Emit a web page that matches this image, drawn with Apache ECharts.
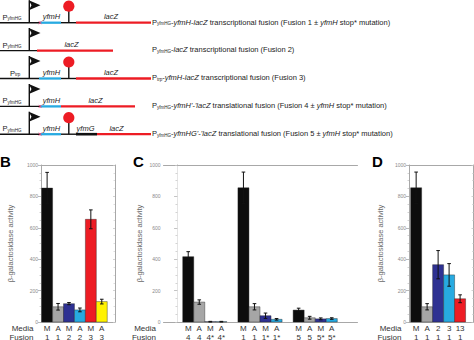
<!DOCTYPE html>
<html><head><meta charset="utf-8">
<script src="https://cdn.jsdelivr.net/npm/echarts@6/dist/echarts.min.js"></script>
<style>html,body{margin:0;padding:0;background:#fff}#c{width:474px;height:340px}</style>
</head><body><div id="c"></div>
<script>
// ---------- data ----------
const yTicks = [0, 200, 400, 600, 800, 1000];
const yName = 'β-galactosidase activity';

const bMedia  = ['M', 'A', 'M', 'A', 'M', 'A'];
const bFusion = ['1', '1', '2', '2', '3', '3'];
const bValues = [853, 97, 117, 77, 654, 130];
const bErrors = [100, 21, 7, 12, 60, 15];

const cMedia  = ['M', 'A', 'M', 'A', 'M', 'A', 'M', 'A', 'M', 'A', 'M', 'A'];
const cFusion = ['4', '4', '4*', '4*', '1', '1', '1*', '1*', '5', '5', '5*', '5*'];
const cValues = [416, 127, 2, 2, 855, 97, 40, 17, 76, 27, 20, 22];
const cErrors = [32, 14, 2, 2, 100, 20, 17, 5, 12, 9, 6, 5];

const dMedia  = ['M', 'A', '2', '3', '13'];
const dFusion = ['1', '1', '1', '1', '1'];
const dValues = [855, 97, 365, 300, 148];
const dErrors = [100, 20, 90, 72, 25];

const promoterNames = ['yfmHG', 'yfmHG', 'trp', 'yfmHG', 'yfmHG'];
const constructText = [
  '{p|P}{s|yfmHG}{n|-}{i|yfmH}{n|-}{i|lacZ}{n| transcriptional fusion (Fusion 1 ± }{i|yfmH}{n| stop* mutation)}',
  '{p|P}{s|yfmHG}{n|-}{i|lacZ}{n| transcriptional fusion (Fusion 2)}',
  '{p|P}{s|trp}{n|-}{i|yfmH}{n|-}{i|lacZ}{n| transcriptional fusion (Fusion 3)}',
  "{p|P}{s|yfmHG}{n|-}{i|yfmH'}{n|-}{i|'lacZ}{n| translational fusion (Fusion 4 ± }{i|yfmH}{n| stop* mutation)}",
  "{p|P}{s|yfmHG}{n|-}{i|yfmHG'}{n|-}{i|'lacZ}{n| translational fusion (Fusion 5 ± }{i|yfmH}{n| stop* mutation)}"
];

// ---------- style ----------
const FONT = '"Liberation Sans", Arial, Helvetica, sans-serif';
const COL = { black: '#0d0d0d', gray: '#a6a6a6', navy: '#2e3192', cyan: '#27aae1', red: '#ed1c24', yellow: '#fff200' };
const AX = '#a8a8a8';
const TXT = '#222222';
const GTOP = 165, GH = 157;

const panels = [
  { key: 'B', left: 41, width: 74, min: 0.44, max: 7.21, nameGap: 27, rightLine: true,
    media: bMedia, fusion: bFusion, values: bValues, errors: bErrors,
    colors: [COL.black, COL.gray, COL.navy, COL.cyan, COL.red, COL.yellow], pos: i => i + 1 },
  { key: 'C', left: 163.5, width: 194, min: -1.24, max: 16.33, nameGap: 20, rightLine: false,
    media: cMedia, fusion: cFusion, values: cValues, errors: cErrors,
    colors: [COL.black, COL.gray, COL.navy, COL.cyan, COL.black, COL.gray, COL.navy, COL.cyan, COL.black, COL.gray, COL.navy, COL.cyan],
    pos: i => i + 1 + Math.floor(i / 4) },
  { key: 'D', left: 409, width: 64.5, min: 0.35, max: 6.22, nameGap: 25, rightLine: true,
    media: dMedia, fusion: dFusion, values: dValues, errors: dErrors,
    colors: [COL.black, COL.gray, COL.navy, COL.cyan, COL.red], pos: i => i + 1 }
];

function makeRender(p) {
  return function (params, api) {
    const i = params.dataIndex;
    const x = api.value(0), v = api.value(1), e = api.value(2);
    const a = api.coord([x - 0.5, 0]);
    const b = api.coord([x + 0.5, v]);
    const t = api.coord([x, v + e]);
    const lo = api.coord([x, Math.max(0, v - e)]);
    const cw = 1.8;
    return {
      type: 'group',
      children: [
        { type: 'rect', shape: { x: a[0], y: b[1], width: b[0] - a[0], height: a[1] - b[1] },
          style: { fill: p.colors[i], stroke: '#222', lineWidth: 0.4 } },
        { type: 'line', shape: { x1: t[0], y1: t[1], x2: lo[0], y2: lo[1] }, style: { stroke: '#111', lineWidth: 1 } },
        { type: 'line', shape: { x1: t[0] - cw, y1: t[1], x2: t[0] + cw, y2: t[1] }, style: { stroke: '#111', lineWidth: 1 } },
        { type: 'line', shape: { x1: lo[0] - cw, y1: lo[1], x2: lo[0] + cw, y2: lo[1] }, style: { stroke: '#111', lineWidth: 1 } },
        { type: 'text', x: t[0], y: a[1] + 6.5,
          style: { text: p.media[i], fill: '#333', font: '8px ' + FONT, align: 'center', verticalAlign: 'middle' } },
        { type: 'text', x: t[0], y: a[1] + 15,
          style: { text: p.fusion[i], fill: '#333', font: '8px ' + FONT, align: 'center', verticalAlign: 'middle' } }
      ]
    };
  };
}

const grid = [], xAxis = [], yAxis = [], series = [];
panels.forEach((p, k) => {
  grid.push({ left: p.left, top: GTOP, width: p.width, height: GH });
});
panels.forEach((p, k) => {
  xAxis.push({ type: 'value', gridIndex: k, min: p.min, max: p.max, position: 'bottom',
    axisLine: { show: true, onZero: false, lineStyle: { color: AX, width: 1 } },
    axisTick: { show: false }, axisLabel: { show: false }, splitLine: { show: false } });
});
panels.forEach((p, k) => {
  xAxis.push({ type: 'value', gridIndex: k, min: p.min, max: p.max, position: 'top',
    axisLine: { show: true, onZero: false, lineStyle: { color: AX, width: 1 } },
    axisTick: { show: false }, axisLabel: { show: false }, splitLine: { show: false } });
});
panels.forEach((p, k) => {
  yAxis.push({ type: 'value', gridIndex: k, position: 'left',
    min: yTicks[0], max: yTicks[yTicks.length - 1], interval: yTicks[1] - yTicks[0],
    name: yName, nameLocation: 'middle', nameRotate: 90, nameGap: p.nameGap,
    nameTextStyle: { fontSize: 7.5, color: '#6a6a6a', fontFamily: FONT },
    axisLine: { show: true, lineStyle: { color: AX, width: 1 } },
    axisTick: { show: true, length: 3, lineStyle: { color: AX, width: 0.8 } },
    minorTick: { show: true, splitNumber: 4, length: 1.5, lineStyle: { color: '#c8c8c8', width: 0.8 } },
    axisLabel: { fontSize: 5, color: '#8a8a8a', margin: 3, fontFamily: FONT, formatter: v => String(v) },
    splitLine: { show: false } });
});
panels.forEach((p, k) => {
  yAxis.push({ type: 'value', gridIndex: k, position: 'right',
    min: yTicks[0], max: yTicks[yTicks.length - 1], interval: yTicks[1] - yTicks[0],
    axisLine: { show: true, lineStyle: { color: p.rightLine ? AX : '#e4e4e4', width: 1 } },
    axisTick: { show: true, inside: true, length: 2, lineStyle: { color: '#c8c8c8', width: 0.8 } },
    minorTick: { show: true, splitNumber: 4, length: 1.5, lineStyle: { color: '#d4d4d4', width: 0.8 } },
    axisLabel: { show: false }, splitLine: { show: false } });
});
panels.forEach((p, k) => {
  series.push({ type: 'custom', xAxisIndex: k, yAxisIndex: k, clip: false,
    renderItem: makeRender(p),
    encode: { x: 0, y: 1 },
    data: p.values.map((v, i) => [p.pos(i), v, p.errors[i]]) });
});

// ---------- schematic + annotations ----------
function schematic() {
  const els = [];
  const base = [22.7, 50.6, 78.5, 106.4, 134.2];
  const segColor = { k: '#111', K: '#111', c: COL.cyan, r: COL.red };
  const segWidth = { k: 1.4, K: 2.6, c: 2.3, r: 2.3 };
  const rows = [
    { segs: [['k', 0, 40], ['c', 40, 61], ['k', 61, 76], ['r', 76, 151]], term: true, stop: true, genes: [['yfmH', 51.5], ['lacZ', 111]] },
    { segs: [['k', 0, 37], ['r', 37, 113]], genes: [['lacZ', 71.5]] },
    { segs: [['k', 0, 39], ['c', 39, 61], ['k', 61, 76], ['r', 76, 151]], term: true, genes: [['yfmH', 51.5], ['lacZ', 111]] },
    { segs: [['k', 0, 40], ['c', 40, 61], ['r', 61, 135]], stop: true, genes: [['yfmH', 51.5], ['lacZ', 95.5]] },
    { segs: [['k', 0, 40], ['c', 40, 61], ['k', 61, 76], ['K', 76, 97], ['r', 97, 151]], term: true, stop: true, genes: [['yfmH', 51.5], ['yfmG', 85.5], ['lacZ', 116.5]] }
  ];
  const tok = (size, italic) => ({ fontSize: size, fontFamily: FONT, fontStyle: italic ? 'italic' : 'normal',
    fill: TXT, color: TXT, lineHeight: 9, verticalAlign: 'bottom' });
  const richP = { p: tok(7.5), s: tok(4.5), n: tok(7.5), i: tok(7.5, true) };
  rows.forEach((r, k) => {
    const y = base[k];
    r.segs.forEach(s => {
      els.push({ type: 'line', shape: { x1: s[1], y1: y, x2: s[2], y2: y },
        style: { stroke: segColor[s[0]], lineWidth: segWidth[s[0]] } });
    });
    // promoter flag
    const top = y - 22.5;
    els.push({ type: 'line', shape: { x1: 29.3, y1: y, x2: 29.3, y2: top }, style: { stroke: '#111', lineWidth: 1.4 } });
    els.push({ type: 'polygon', shape: { points: [[28.8, top], [40.5, top + 5], [28.8, top + 10], [31.5, top + 5]] }, style: { fill: '#111' } });
    // terminator
    if (r.term) {
      els.push({ type: 'line', shape: { x1: 68.8, y1: y, x2: 68.8, y2: y - 12 }, style: { stroke: '#111', lineWidth: 1.4 } });
      els.push({ type: 'circle', shape: { cx: 68.8, cy: y - 16.5, r: 5.6 }, style: { fill: COL.red } });
    }
    // stop mutation mark
    if (r.stop) {
      els.push({ type: 'line', shape: { x1: 38.8, y1: y - 1.5, x2: 41.4, y2: y + 1.5 }, style: { stroke: '#e8417a', lineWidth: 0.9 } });
      els.push({ type: 'line', shape: { x1: 38.8, y1: y + 1.5, x2: 41.4, y2: y - 1.5 }, style: { stroke: '#e8417a', lineWidth: 0.9 } });
    }
    // gene names
    r.genes.forEach(g => {
      els.push({ type: 'text', x: g[1], y: y - 1.8,
        style: { text: g[0], fill: TXT, font: 'italic 7.5px ' + FONT, align: 'center', verticalAlign: 'bottom' } });
    });
    // promoter label
    els.push({ type: 'text', x: promoterNames[k] === 'trp' ? 10 : 2.5, y: y - 1.5,
      style: { text: '{p|P}{s|' + promoterNames[k] + '}', rich: richP, fill: TXT, align: 'left', verticalAlign: 'bottom' } });
    // description
    els.push({ type: 'text', x: 152, y: y + 3.3,
      style: { text: constructText[k], rich: richP, fill: TXT, align: 'left', verticalAlign: 'bottom' } });
  });
  // panel letters
  [['B', 0], ['C', 133], ['D', 372]].forEach(l => {
    els.push({ type: 'text', x: l[1], y: 161,
      style: { text: l[0], fill: '#000', font: 'bold 15px ' + FONT, align: 'left', verticalAlign: 'middle' } });
  });
  // Media / Fusion row titles
  panels.forEach(p => {
    els.push({ type: 'text', x: p.left - 7.5, y: GTOP + GH + 6.5,
      style: { text: 'Media', fill: '#333', font: '8px ' + FONT, align: 'right', verticalAlign: 'middle' } });
    els.push({ type: 'text', x: p.left - 7.5, y: GTOP + GH + 15,
      style: { text: 'Fusion', fill: '#333', font: '8px ' + FONT, align: 'right', verticalAlign: 'middle' } });
  });
  return els;
}

const chart = echarts.init(document.getElementById('c'), null, { renderer: 'svg' });
chart.setOption({
  animation: false,
  backgroundColor: '#fff',
  textStyle: { fontFamily: FONT },
  grid, xAxis, yAxis, series,
  graphic: { elements: schematic() }
});
</script>
</body></html>
